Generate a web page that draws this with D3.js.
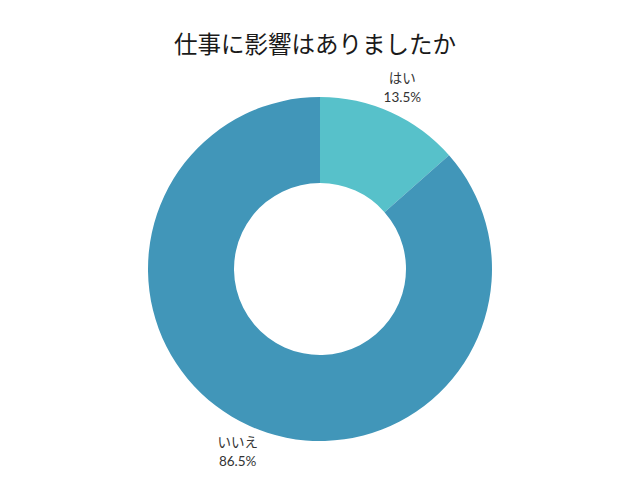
<!DOCTYPE html>
<html>
<head>
<meta charset="utf-8">
<script src="https://cdn.jsdelivr.net/npm/d3@7"></script>
<style>
body{margin:0;background:#fff;}
text{font-family:"Noto Sans CJK JP","Noto Sans",sans-serif;}
</style>
</head>
<body>
<svg width="640" height="480"></svg>
<script>
//データ
var labels=["はい","いいえ"];
var values=[13.5,86.5];
var colors=["#57c1ca","#4196b9"];
var title="仕事に影響はありましたか";

var svg=d3.select("svg"),
    width=+svg.attr("width"),
    cx=320,cy=269,
    outer=172,inner=86;

//タイトル
svg.append("text")
    .attr("x",315)
    .attr("y",53)
    .attr("text-anchor","middle")
    .attr("font-size","23.5px")
    .attr("fill","#1a1a1a")
    .text(title);

var pie=d3.pie().sort(null).value(function(d){return d;});
var arc=d3.arc().innerRadius(inner).outerRadius(outer);
var labelArc=d3.arc().innerRadius(200).outerRadius(200);

var g=svg.append("g").attr("transform","translate("+cx+","+cy+")");
var arcs=pie(values);

g.selectAll("path")
    .data(arcs)
    .enter().append("path")
    .attr("fill",function(d,i){return colors[i];})
    .attr("d",arc);

//ラベル
var lab=g.selectAll(".lab")
    .data(arcs)
    .enter().append("text")
    .attr("class","lab")
    .attr("text-anchor","middle")
    .attr("font-size","13.5px")
    .attr("fill","#333")
    .style("font-family","Lato,'Noto Sans CJK JP',sans-serif")
    .attr("transform",function(d){return "translate("+labelArc.centroid(d)+")";});
lab.append("tspan").attr("x",0).attr("y",-4).text(function(d,i){return labels[i];});
lab.append("tspan").attr("x",0).attr("y",15).text(function(d,i){return values[i].toFixed(1)+"%";});
</script>
</body>
</html>
